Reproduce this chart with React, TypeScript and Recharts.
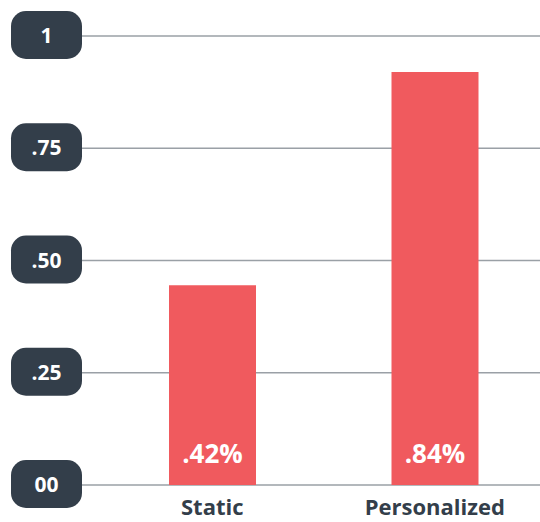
import { BarChart, Bar, XAxis, YAxis, CartesianGrid, LabelList } from 'recharts';

const categories = ['Static', 'Personalized'];
const barValues = [0.445, 0.92];
const barLabels = ['.42%', '.84%'];
const yTicks = [0, 0.25, 0.5, 0.75, 1];
const yTickLabels = ['00', '.25', '.50', '.75', '1'];

const FONT = '"Open Sans", "Noto Sans", sans-serif';
const DARK = '#333e4a';
const RED = '#f05a5e';

const data = categories.map((name, i) => ({
    name,
    value: barValues[i],
    label: barLabels[i],
}));

function PillTick(props: any) {
    const { x, y, payload } = props;
    const idx = yTicks.indexOf(payload.value);
    const w = 71;
    const h = 48;
    return (
        <g>
            <rect x={x - w} y={y - h / 2 - 1} width={w} height={h} rx={15} ry={15} fill={DARK} />
            <text
                x={x - w / 2}
                y={y}
                dy={7}
                textAnchor="middle"
                fill="#fff"
                fontSize={21}
                fontWeight={700}
                fontFamily={FONT}
            >
                {yTickLabels[idx]}
            </text>
        </g>
    );
}

function CategoryTick(props: any) {
    const { x, y, payload } = props;
    return (
        <text
            x={x}
            y={y}
            dy={30}
            textAnchor="middle"
            fill={DARK}
            fontSize={22}
            fontWeight={700}
            fontFamily={FONT}
        >
            {payload.value}
        </text>
    );
}

export default function App() {
    return (
        <div style={{ position: 'absolute', left: 0, top: 0, width: 540, height: 522, overflow: 'hidden', background: '#fff' }}>
            <BarChart
                width={546}
                height={522}
                data={data}
                margin={{ top: 36, right: 0, bottom: 0, left: 0 }}
                barSize={87}
            >
                <CartesianGrid horizontal vertical={false} stroke="#9aa0a6" strokeWidth={1.5} />
                <XAxis
                    dataKey="name"
                    height={37}
                    axisLine={false}
                    tickLine={false}
                    tickSize={0}
                    tickMargin={0}
                    padding={{ left: 19, right: 0 }}
                    tick={<CategoryTick />}
                />
                <YAxis
                    domain={[0, 1]}
                    ticks={yTicks}
                    width={82}
                    axisLine={false}
                    tickLine={false}
                    tickSize={0}
                    tickMargin={0}
                    tick={<PillTick />}
                />
                <Bar dataKey="value" fill={RED} isAnimationActive={false}>
                    <LabelList
                        dataKey="label"
                        position="insideBottom"
                        offset={22}
                        fill="#fff"
                        fontSize={26}
                        fontWeight={700}
                        fontFamily={FONT}
                    />
                </Bar>
            </BarChart>
        </div>
    );
}
